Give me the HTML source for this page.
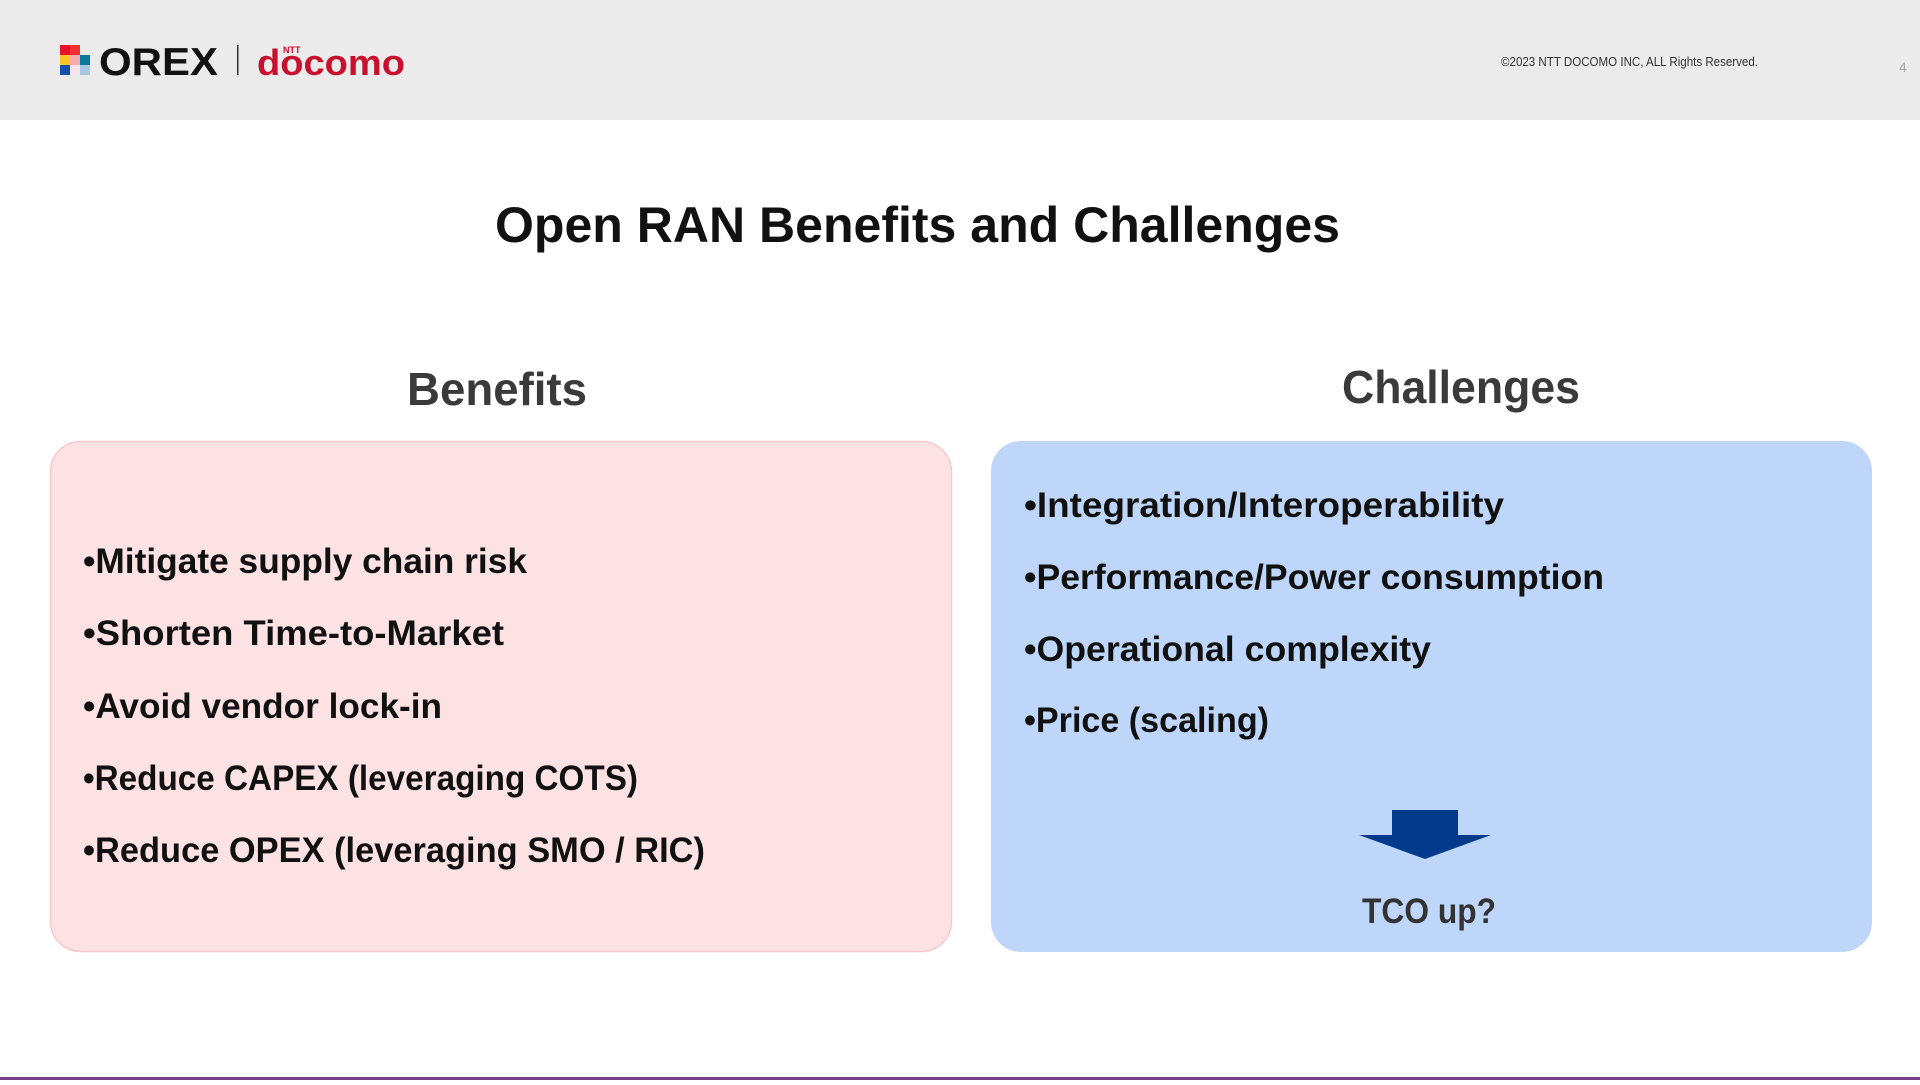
<!DOCTYPE html>
<html><head><meta charset="utf-8"><style>
html,body{margin:0;padding:0;background:#fff;}
body{width:1920px;height:1080px;overflow:hidden;}
svg text{font-family:"Liberation Sans",sans-serif;}
</style></head><body>
<svg width="1920" height="1080" viewBox="0 0 1920 1080" xmlns="http://www.w3.org/2000/svg">
<rect x="0" y="0" width="1920" height="120" fill="#ebebeb"/>
<!-- logo squares -->
<rect x="60" y="45" width="10" height="10" fill="#e8102b"/>
<rect x="70" y="45" width="10" height="10" fill="#f03030"/>
<rect x="60" y="55" width="10" height="10" fill="#f7c325"/>
<rect x="70" y="55" width="10" height="10" fill="#f6aab0"/>
<rect x="80" y="55" width="10" height="10" fill="#0a7a9a"/>
<rect x="60" y="65" width="10" height="10" fill="#1550b0"/>
<rect x="70" y="65" width="10" height="10" fill="#fbe4ea"/>
<rect x="80" y="65" width="10" height="10" fill="#a9c7e3"/>
<text x="99" y="75" font-size="39" font-weight="bold" fill="#111" textLength="119" lengthAdjust="spacingAndGlyphs">OREX</text>
<rect x="237" y="45" width="1.5" height="30" fill="#333"/>
<text x="283" y="53" font-size="9" font-weight="bold" fill="#c8102e">NTT</text>
<text x="257" y="75" font-size="36" font-weight="bold" fill="#c8102e" textLength="148" lengthAdjust="spacingAndGlyphs">docomo</text>
<text x="1501" y="66" font-size="12.5" fill="#333" textLength="257" lengthAdjust="spacingAndGlyphs">©2023 NTT DOCOMO INC, ALL Rights Reserved.</text>
<text x="1899" y="72" font-size="14" fill="#aaa">4</text>

<text x="495" y="242" font-size="50" font-weight="bold" fill="#111" textLength="845" lengthAdjust="spacingAndGlyphs">Open RAN Benefits and Challenges</text>
<text x="407" y="405" font-size="46" font-weight="bold" fill="#3a3a3a" textLength="180" lengthAdjust="spacingAndGlyphs">Benefits</text>
<text x="1342" y="403" font-size="46" font-weight="bold" fill="#3a3a3a" textLength="238" lengthAdjust="spacingAndGlyphs">Challenges</text>

<rect x="50.5" y="441.5" width="901" height="510" rx="30" fill="#fde2e4" stroke="#f6c9cd" stroke-width="1.5"/>
<rect x="991" y="441" width="881" height="511" rx="30" fill="#bfd6fb"/>

<g font-size="35" font-weight="bold" fill="#111">
<text x="83" y="573" textLength="444" lengthAdjust="spacingAndGlyphs">•Mitigate supply chain risk</text>
<text x="83" y="645" textLength="421" lengthAdjust="spacingAndGlyphs">•Shorten Time-to-Market</text>
<text x="83" y="718" textLength="359" lengthAdjust="spacingAndGlyphs">•Avoid vendor lock-in</text>
<text x="83" y="790" textLength="555" lengthAdjust="spacingAndGlyphs">•Reduce CAPEX (leveraging COTS)</text>
<text x="83" y="862" textLength="622" lengthAdjust="spacingAndGlyphs">•Reduce OPEX (leveraging SMO / RIC)</text>
<text x="1024" y="517" textLength="480" lengthAdjust="spacingAndGlyphs">•Integration/Interoperability</text>
<text x="1024" y="589" textLength="580" lengthAdjust="spacingAndGlyphs">•Performance/Power consumption</text>
<text x="1024" y="661" textLength="407" lengthAdjust="spacingAndGlyphs">•Operational complexity</text>
<text x="1024" y="732" textLength="245" lengthAdjust="spacingAndGlyphs">•Price (scaling)</text>
</g>
<polygon points="1392,810 1458,810 1458,835 1491,835 1425,859 1359,835 1392,835" fill="#033a8c"/>
<text x="1362" y="923" font-size="35" font-weight="bold" fill="#333" textLength="134" lengthAdjust="spacingAndGlyphs">TCO up?</text>
<rect x="0" y="1077" width="1920" height="3" fill="#7b3f8a"/>
</svg>
</body></html>
